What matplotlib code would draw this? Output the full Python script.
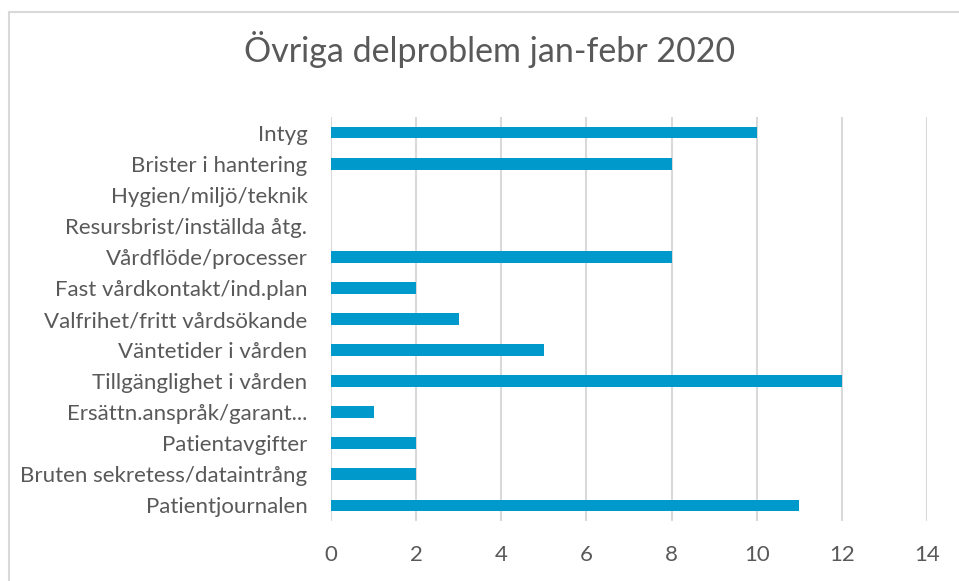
import matplotlib
matplotlib.use("Agg")
import matplotlib.pyplot as plt
from matplotlib.patches import Rectangle

categories = [
    "Intyg",
    "Brister i hantering",
    "Hygien/miljö/teknik",
    "Resursbrist/inställda åtg.",
    "Vårdflöde/processer",
    "Fast vårdkontakt/ind.plan",
    "Valfrihet/fritt vårdsökande",
    "Väntetider i vården",
    "Tillgänglighet i vården",
    "Ersättn.anspråk/garant...",
    "Patientavgifter",
    "Bruten sekretess/dataintrång",
    "Patientjournalen",
]
values = [10, 8, 0, 0, 8, 2, 3, 5, 12, 1, 2, 2, 11]
xticks = [0, 2, 4, 6, 8, 10, 12, 14]
title = "Övriga delproblem jan-febr 2020"

plt.rcParams['font.family'] = ['Lato', 'DejaVu Sans']
text_color = "#595959"
grid_color = "#D9D9D9"
bar_color = "#0099CC"

W, H = 959, 581
fig = plt.figure(figsize=(W / 100, H / 100), dpi=100)
fig.patch.set_facecolor("white")

# chart border (partially cropped like reference)
fig.patches.append(Rectangle((9 / W, -0.05), 1.0, 1 - 12 / H + 0.05,
                             transform=fig.transFigure, fill=False,
                             edgecolor=grid_color, linewidth=1.5))

ax = fig.add_axes([331 / W, 1 - 521 / H, (927 - 331) / W, (521 - 117) / H])
n = len(categories)
ypos = list(range(n))
ax.barh(ypos, values, height=0.38, color=bar_color, zorder=3)
ax.set_ylim(n - 0.5, -0.5)
ax.set_xlim(0, 14)
ax.set_xticks(xticks)
ax.set_xticklabels([str(t) for t in xticks])
ax.set_yticks(ypos)
ax.set_yticklabels(categories)
for t in xticks:
    ax.axvline(t, color=grid_color, linewidth=1.5, zorder=1)
for s in ax.spines.values():
    s.set_visible(False)
ax.tick_params(axis='both', length=0, colors=text_color, labelsize=16)
ax.tick_params(axis='x', pad=17)
ax.tick_params(axis='y', pad=17)

fig.text(490 / W, 1 - 50 / H, title, ha='center', va='center',
         fontsize=24.5, color=text_color)

fig.savefig("out.png", dpi=100, facecolor="white")
